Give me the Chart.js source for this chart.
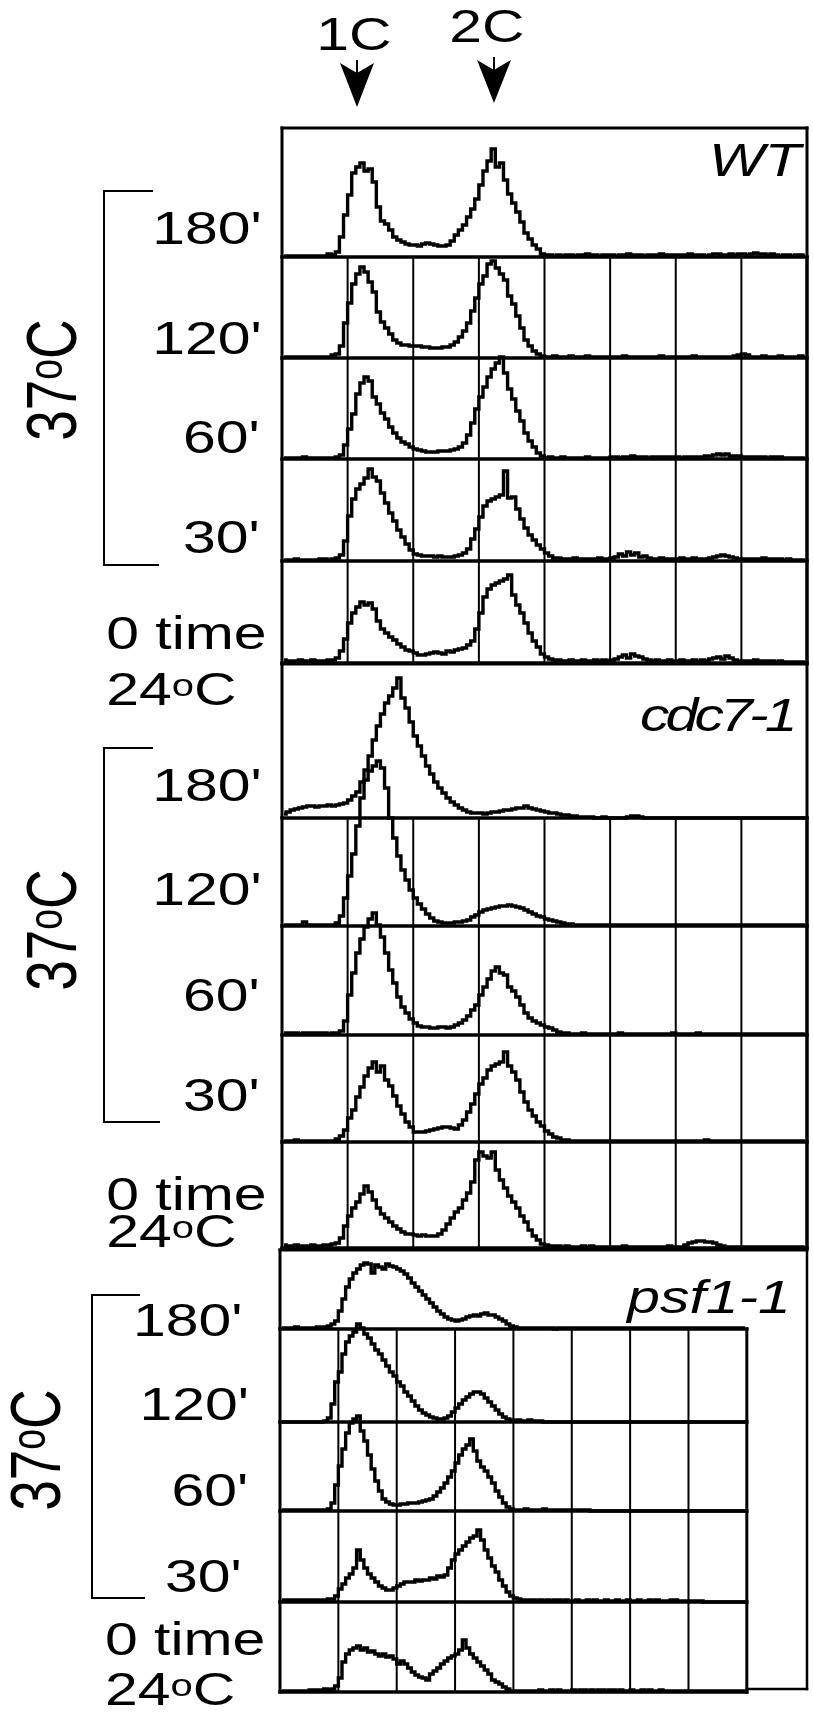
<!DOCTYPE html>
<html>
<head>
<meta charset="utf-8">
<script src="https://cdn.jsdelivr.net/npm/chart.js@4.4.1/dist/chart.umd.min.js"></script>
<style>
  body { margin: 0; background: #fff; width: 813px; height: 1715px; position: relative; overflow: hidden;
         font-family: "Liberation Sans", Arial, sans-serif; }
  canvas { position: absolute; left: 0; }
  #labels { position: absolute; left: 0; top: 0; width: 813px; height: 1715px;
            transform: scaleX(1.28); transform-origin: 0 0; }
  .lab { position: absolute; font-size: 46px; line-height: 1; white-space: nowrap; color: #000; }
  .big { font-size: 46px; }
  .strain { font-size: 46px; font-style: italic; }
  .rot { font-size: 55px; transform: translate(-50%, -50%) rotate(-90deg); }
  .deg { font-size: 68%; position: relative; top: -0.3em; }
  svg { position: absolute; left: 0; top: 0; }
</style>
</head>
<body>

<canvas id="wt" width="813" height="555" style="top:118px"></canvas>
<canvas id="cdc7" width="813" height="604" style="top:654px"></canvas>
<canvas id="psf1" width="813" height="462" style="top:1240px"></canvas>

<svg width="813" height="1715">
  <!-- brackets for the 37C time points -->
  <path d="M153 191 H104 V565 H159" fill="none" stroke="#000" stroke-width="2"/>
  <path d="M153 748 H104 V1122 H160" fill="none" stroke="#000" stroke-width="2"/>
  <path d="M140 1295 H92 V1598 H145" fill="none" stroke="#000" stroke-width="2"/>
  <!-- 1C / 2C arrows -->
  <line x1="357" y1="60" x2="357" y2="76" stroke="#000" stroke-width="2"/>
  <polygon points="357,107 340,63 357,73 374,63" fill="#000"/>
  <line x1="494" y1="57" x2="494" y2="72" stroke="#000" stroke-width="2"/>
  <polygon points="494,103 477,60 494,70 511,60" fill="#000"/>
</svg>

<div id="labels">
  <div class="lab big" style="left:247px;top:11px">1C</div>
  <div class="lab big" style="left:351px;top:3px">2C</div>

  <div class="lab strain" style="left:554px;top:137px">WT</div>
  <div class="lab strain" style="left:500px;top:692px;letter-spacing:-3px">cdc7-1</div>
  <div class="lab strain" style="left:490px;top:1274px">psf1-1</div>

  <div class="lab" style="left:119px;top:205px">180'</div>
  <div class="lab" style="left:119px;top:315px">120'</div>
  <div class="lab" style="left:143px;top:414px">60'</div>
  <div class="lab" style="left:143px;top:514px">30'</div>
  <div class="lab" style="left:83px;top:610px">0 time</div>
  <div class="lab" style="left:83px;top:666px">24<span class="deg">o</span>C</div>
  <div class="lab rot" style="left:41px;top:380px">37<span class="deg">o</span>C</div>

  <div class="lab" style="left:119px;top:762px">180'</div>
  <div class="lab" style="left:119px;top:866px">120'</div>
  <div class="lab" style="left:143px;top:972px">60'</div>
  <div class="lab" style="left:143px;top:1072px">30'</div>
  <div class="lab" style="left:83px;top:1171px">0 time</div>
  <div class="lab" style="left:83px;top:1208px">24<span class="deg">o</span>C</div>
  <div class="lab rot" style="left:41px;top:930px">37<span class="deg">o</span>C</div>

  <div class="lab" style="left:104px;top:1297px">180'</div>
  <div class="lab" style="left:109px;top:1381px">120'</div>
  <div class="lab" style="left:134px;top:1467px">60'</div>
  <div class="lab" style="left:129px;top:1553px">30'</div>
  <div class="lab" style="left:82px;top:1616px">0 time</div>
  <div class="lab" style="left:82px;top:1666px">24<span class="deg">o</span>C</div>
  <div class="lab rot" style="left:28px;top:1450px">37<span class="deg">o</span>C</div>
</div>

<script>
// DNA content channels (bin centres), 32 channels per grid column
const channels = Array.from({length: 128}, (_, i) => 2 * i + 1);
const gridChannels = [32, 64, 96, 128, 160, 192, 224];
const timePoints = ["180'", "120'", "60'", "30'", "0 time"];

// cell counts per bin
// WT
const wt180 = [
  1,1,1,1,1,1,1,1,1,1,1,3,2,5,20,42,
  62,84,90,94,86,88,75,50,36,33,27,20,17,15,13,12,
  12,11,13,14,13,12,11,11,12,16,22,27,32,40,48,58,
  72,86,96,108,90,94,77,63,54,45,35,24,18,12,8,3,
  2,2,1,2,1,2,2,1,2,2,3,2,2,1,2,2,
  2,1,2,2,3,2,2,2,1,2,2,2,3,2,2,2,
  2,2,2,3,2,2,2,1,2,3,3,2,2,3,2,3,
  3,2,3,4,3,3,2,3,2,1,2,2,1,2,2,1
];
const wt120 = [
  1,1,1,1,1,1,1,1,1,1,1,1,3,4,12,35,
  55,74,84,91,86,76,66,46,36,30,24,18,15,13,13,12,
  12,12,11,11,10,10,10,11,11,13,16,21,27,35,47,60,
  74,82,94,97,90,84,78,62,54,42,30,18,12,7,4,2,
  1,1,2,1,1,1,2,1,1,1,2,1,1,1,1,1,
  1,1,1,2,1,1,1,1,1,1,1,1,2,1,1,1,
  1,1,1,1,2,1,1,1,1,1,1,1,1,1,2,3,
  4,3,1,1,1,2,1,1,1,2,1,1,1,1,2,1
];
const wt60 = [
  1,1,1,1,1,2,1,1,1,1,1,1,1,2,4,14,
  30,45,65,76,82,78,62,55,46,40,32,26,21,17,15,12,
  10,9,8,7,7,7,8,8,8,9,10,12,16,24,36,50,
  62,72,82,90,96,102,86,70,60,48,38,26,18,12,6,3,
  1,2,1,1,2,1,1,1,1,1,2,1,1,1,1,1,
  2,2,1,2,2,3,2,2,2,1,2,2,2,2,2,2,
  2,1,2,2,2,2,2,3,3,4,5,4,5,3,3,3,
  2,2,2,2,2,2,1,2,2,2,1,1,1,1,1,1
];
const wt30 = [
  1,1,1,2,1,1,1,1,1,2,2,1,2,3,6,20,
  45,62,72,77,83,92,84,80,68,58,48,40,31,24,17,11,
  7,6,5,5,5,4,5,4,4,4,5,6,8,12,22,32,
  44,55,60,62,64,66,90,63,64,52,42,33,26,21,16,12,
  8,5,3,3,2,2,2,3,2,2,2,2,2,3,2,2,
  3,4,7,5,9,6,8,4,5,3,2,2,3,2,2,2,
  2,3,2,2,3,2,2,2,3,4,5,6,5,4,3,2,
  2,2,2,2,2,3,2,2,2,2,1,2,1,1,1,1
];
const wt0 = [
  3,2,2,2,3,2,2,3,2,2,2,3,3,5,12,24,
  40,50,56,61,58,60,54,42,34,30,26,23,19,16,13,12,
  10,8,8,9,10,11,10,9,12,11,13,14,15,18,22,34,
  50,66,74,78,80,82,84,88,68,58,50,40,30,22,16,9,
  6,4,3,3,2,2,3,2,2,3,2,2,3,2,3,2,
  3,4,6,8,5,9,7,6,4,3,2,3,2,2,3,2,
  2,3,2,2,3,2,3,2,4,5,6,4,7,5,3,2,
  2,2,2,3,2,2,2,2,1,2,1,1,1,1,1,1
];

// cdc7-1
const cdc180 = [
  4,6,8,9,10,11,12,12,11,12,12,13,12,13,14,15,
  18,22,26,36,48,62,78,92,104,115,122,130,140,120,110,96,
  82,72,62,52,44,36,30,25,20,16,13,10,8,6,5,5,
  5,4,5,6,6,7,8,8,9,10,10,12,10,9,8,7,
  6,5,5,4,3,3,2,2,1,1,1,1,0,0,1,0,
  0,0,0,0,1,2,2,1,0,0,0,0,0,0,0,0,
  0,0,0,0,0,0,0,0,0,0,0,0,0,0,0,0,
  0,0,0,0,0,0,0,0,0,0,0,0,0,0,0,0
];
const cdc120 = [
  1,1,1,1,1,4,1,1,1,1,1,1,1,3,10,28,
  50,72,100,128,146,155,160,165,158,138,108,88,70,56,46,36,
  28,22,17,12,8,5,4,3,3,3,4,4,5,6,9,11,
  14,16,17,18,19,20,20,21,20,19,18,16,14,12,10,9,
  7,6,5,4,3,2,2,1,1,1,1,1,1,1,1,1,
  1,1,1,1,1,1,1,1,1,1,1,1,1,1,1,1,
  1,1,1,1,1,1,1,1,1,1,1,1,1,1,1,1,
  1,1,1,1,1,1,1,1,1,1,1,1,1,1,1,1
];
const cdc60 = [
  2,2,2,2,1,2,2,2,2,2,2,1,2,2,4,14,
  40,62,82,96,108,116,122,110,98,82,65,52,38,28,22,16,
  12,9,8,8,7,7,8,8,7,8,10,12,15,19,25,30,
  40,48,56,64,68,62,60,48,44,38,30,22,17,14,12,10,
  8,7,5,3,2,2,1,1,1,2,1,1,1,1,1,1,
  1,1,2,1,1,1,1,1,1,1,1,1,1,1,1,2,
  1,1,1,1,1,2,1,1,1,1,1,1,1,1,1,1,
  1,1,1,1,1,1,1,1,1,1,1,1,1,1,1,1
];
const cdc30 = [
  1,1,1,2,1,1,1,1,1,1,1,1,1,3,6,12,
  24,32,45,55,66,74,80,70,76,62,56,46,36,28,20,15,
  10,10,10,11,12,13,14,15,15,14,13,17,22,30,38,48,
  58,64,72,76,78,80,90,76,70,62,50,40,32,26,20,16,
  11,8,5,4,2,2,1,1,1,1,1,1,1,1,1,1,
  1,1,1,1,1,1,1,1,1,1,1,1,1,1,1,1,
  1,1,1,1,1,1,1,2,1,1,1,1,1,1,1,1,
  1,1,1,1,1,1,1,1,1,1,1,1,1,1,1,1
];
const cdc0 = [
  3,2,2,3,2,2,2,3,2,2,3,3,4,5,10,22,
  32,40,46,54,62,56,48,40,34,30,26,22,19,16,14,14,
  13,12,13,12,12,12,14,18,24,30,36,40,48,55,66,88,
  96,92,90,96,78,68,60,52,46,40,32,26,18,12,8,4,
  3,2,2,2,1,2,1,1,1,2,1,2,1,1,1,1,
  1,1,1,2,1,1,1,1,1,1,1,1,1,1,2,1,
  1,1,3,5,6,7,7,6,6,5,3,2,1,1,1,1,
  1,1,1,1,1,1,1,1,1,1,1,1,1,1,1,0
];

// psf1-1
const psf180 = [
  1,1,1,1,2,1,1,1,1,1,2,1,2,3,5,8,
  18,30,42,50,56,60,64,66,65,56,64,62,60,65,63,62,
  60,58,55,51,46,42,38,34,30,26,22,18,15,12,10,9,
  8,9,10,12,13,14,13,15,16,14,14,12,10,8,5,3,
  2,1,1,1,1,1,1,1,1,1,1,0,1,1,1,1,
  1,1,1,1,1,1,1,1,1,1,1,1,1,1,1,1,
  1,1,1,1,1,1,1,1,1,1,1,1,1,1,1,1,
  1,1,1,1,1,1,1,1,1,1,1,1,1,1,1,1
];
const psf120 = [
  0,0,0,0,0,0,0,0,0,0,0,0,1,4,18,40,
  50,68,80,86,90,98,94,88,84,78,72,68,62,56,50,46,
  40,36,30,26,21,16,12,9,7,5,4,3,3,4,6,10,
  14,18,22,25,28,30,30,28,24,20,16,12,8,5,3,2,
  1,2,1,1,2,1,1,1,0,0,0,0,0,0,0,0,
  0,0,0,0,0,0,0,0,0,0,0,0,0,0,0,0,
  0,0,0,0,0,0,0,0,0,0,0,0,0,0,0,0,
  0,0,0,0,0,0,0,0,0,0,0,0,0,0,0,0
];
const psf60 = [
  1,1,1,1,1,1,1,1,1,1,1,1,1,2,8,26,
  45,62,78,88,92,95,80,70,56,42,30,20,12,9,7,6,
  6,7,7,8,8,8,9,10,11,12,15,19,23,28,34,40,
  48,56,62,66,72,60,50,44,40,34,28,20,14,8,4,2,
  1,1,1,2,1,1,1,1,2,1,1,1,1,1,1,1,
  1,1,1,1,1,0,0,0,0,0,0,0,0,0,0,0,
  0,0,0,0,0,0,0,0,0,0,0,0,0,0,0,0,
  0,0,0,0,0,0,0,0,0,0,0,0,0,0,0,0
];
const psf30 = [
  2,2,2,2,2,2,2,2,2,2,2,2,2,3,3,6,
  13,18,24,28,34,52,42,34,28,24,20,16,14,12,12,14,
  16,18,20,20,20,22,21,22,22,24,23,26,25,27,34,42,
  48,52,56,60,64,66,72,62,52,44,36,30,22,16,10,6,
  4,3,2,2,2,2,1,2,1,2,1,2,2,1,2,1,
  1,2,1,1,2,1,2,1,1,2,1,1,2,1,1,2,
  1,1,2,1,1,2,1,2,1,1,1,2,2,1,1,1,
  1,1,1,1,0,0,0,0,0,0,0,0,0,0,0,0
];
const psf0 = [
  1,1,1,1,1,1,1,1,2,2,2,2,3,2,3,6,
  14,30,38,42,44,46,42,44,40,41,38,36,38,35,36,33,
  28,31,28,24,20,17,15,14,12,18,21,24,28,31,34,36,
  38,42,52,44,38,34,30,26,22,18,12,10,8,5,3,1,
  1,1,1,1,1,1,1,2,1,1,2,1,2,1,1,1,
  2,1,2,2,1,2,1,2,2,1,2,2,1,2,1,1,
  2,1,1,2,1,2,1,1,2,1,1,1,1,1,1,1,
  1,1,1,1,1,1,1,1,1,1,1,1,1,1,1,1
];

const rowIds = ['y0', 'y1', 'y2', 'y3', 'y4'];

function toPoints(vals) {
  return vals.map((v, i) => ({x: channels[i], y: v}));
}

// frame, row baselines and grid, drawn from the chart's own scales
const facsFrame = {
  id: 'facsFrame',
  beforeDatasetsDraw(chart, args, opts) {
    const {ctx, chartArea: a, scales} = chart;
    const xs = scales.x;
    const rows = rowIds.map(id => scales[id]);
    const gx = xs.getPixelForValue(opts.gridEnd);
    const seg = (x1, y1, x2, y2, w) => {
      ctx.lineWidth = w;
      ctx.beginPath();
      ctx.moveTo(x1, y1);
      ctx.lineTo(x2, y2);
      ctx.stroke();
    };
    ctx.save();
    ctx.strokeStyle = '#000';
    ctx.lineCap = 'square';
    gridChannels.forEach(v => {
      const px = xs.getPixelForValue(v);
      seg(px, rows[1].top, px, rows[4].bottom, 2);
    });
    rows.forEach(r => seg(a.left, r.getPixelForValue(0), gx, r.getPixelForValue(0), 3.5));
    seg(a.left, a.top, a.right, a.top, 3);
    seg(a.left, a.top, a.left, a.bottom, 3);
    seg(gx, rows[1].top, gx, rows[4].bottom, 3);
    if (gx < a.right - 1) {
      seg(a.right, a.top, a.right, a.bottom - 3, 2.5);
      seg(gx, a.bottom - 3, a.right, a.bottom - 3, 2.5);
    } else {
      seg(a.right, a.top, a.right, a.bottom, 3);
    }
    ctx.restore();
  }
};

function drawPanel(canvasId, series, rowMax, xMax, padLeft) {
  const scales = {
    x: {type: 'linear', min: 0, max: xMax, display: false}
  };
  rowIds.forEach((id, k) => {
    scales[id] = {
      type: 'linear', position: 'left', stack: 'rows',
      stackWeight: rowMax[k], weight: 5 - k,
      min: 0, max: rowMax[k], display: false
    };
  });

  return new Chart(document.getElementById(canvasId), {
    type: 'line',
    data: {
      datasets: series.map((s, k) => ({
        label: timePoints[k],
        data: toPoints(s),
        yAxisID: rowIds[k],
        borderColor: '#000',
        borderWidth: 3.4,
        stepped: 'middle',
        pointRadius: 0,
        fill: false,
        clip: false   // peaks may rise into the row above
      }))
    },
    options: {
      responsive: false,
      animation: false,
      devicePixelRatio: 1,
      events: [],
      layout: {padding: {left: padLeft, right: 6, top: 10, bottom: 10}},
      scales: scales,
      plugins: {
        legend: {display: false},
        tooltip: {enabled: false},
        facsFrame: {gridEnd: 256}
      }
    },
    plugins: [facsFrame]
  });
}

drawPanel('wt', [wt180, wt120, wt60, wt30, wt0], [129, 101, 101, 102, 102], 256, 282);
drawPanel('cdc7', [cdc180, cdc120, cdc60, cdc30, cdc0], [154, 108, 109, 107, 106], 256, 282);
drawPanel('psf1', [psf180, psf120, psf60, psf30, psf0], [79, 93, 89, 91, 90], 289, 280);
</script>
</body>
</html>
